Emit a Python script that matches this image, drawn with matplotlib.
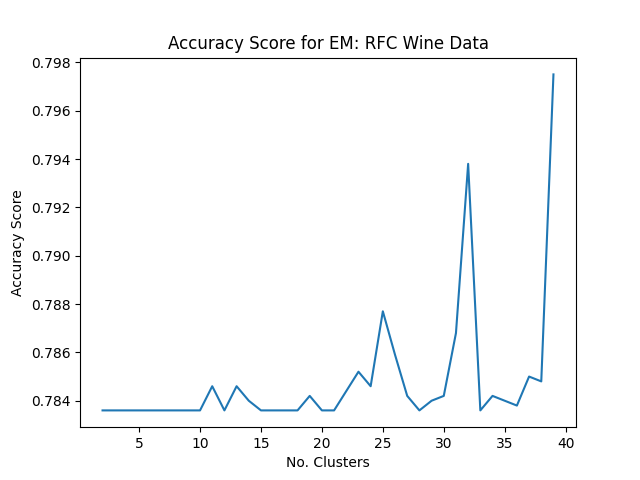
import matplotlib
matplotlib.use("Agg")
import matplotlib.pyplot as plt

clusters = list(range(2, 40))
scores = [0.7836] * 9 + [
    0.7846, 0.7836, 0.7846, 0.7840, 0.7836, 0.7836, 0.7836, 0.7836,
    0.7842, 0.7836, 0.7836, 0.7844, 0.7852, 0.7846, 0.7877, 0.7859,
    0.7842, 0.7836, 0.7840, 0.7842, 0.7868, 0.7938, 0.7836, 0.7842,
    0.7840, 0.7838, 0.7850, 0.7848, 0.7975,
]

fig, ax = plt.subplots(figsize=(6.4, 4.8), dpi=100)
ax.plot(clusters, scores)
ax.set_title("Accuracy Score for EM: RFC Wine Data")
ax.set_xlabel("No. Clusters")
ax.set_ylabel("Accuracy Score")
fig.savefig("out.png")
